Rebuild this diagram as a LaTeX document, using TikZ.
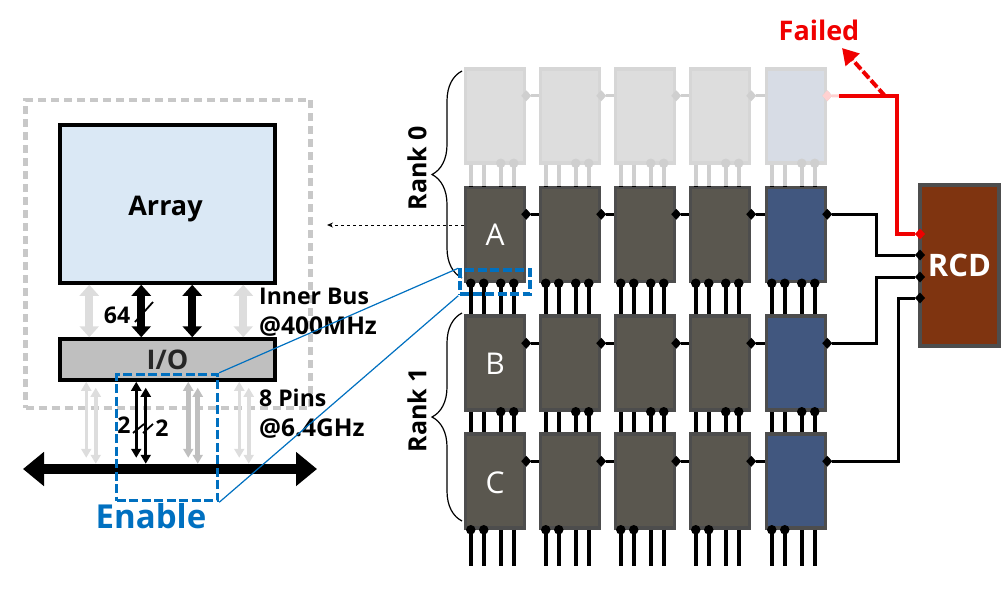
\documentclass[tikz,border=0pt]{standalone}
\usepackage{fontspec}
\setmainfont{Open Sans}
\usetikzlibrary{arrows.meta}
\usetikzlibrary{decorations.pathreplacing}
\usetikzlibrary{positioning}
\usetikzlibrary{shapes.geometric}

\definecolor{arrayblue}{HTML}{DAE8F5}
\definecolor{iogray}{HTML}{BFBFBF}
\definecolor{dashgray}{HTML}{C8C8C8}
\definecolor{faintgray}{HTML}{DDDDDD}
\definecolor{faintedge}{HTML}{D6D6D6}
\definecolor{faintpin}{HTML}{CFCFCF}
\definecolor{chipgray}{HTML}{5A574F}
\definecolor{chipedge}{HTML}{4D4D4D}
\definecolor{chipblue}{HTML}{41577F}
\definecolor{faintblue}{HTML}{D7DCE5}
\definecolor{rcdbrown}{HTML}{7F3410}
\definecolor{enableblue}{HTML}{0070C0}
\definecolor{failred}{HTML}{F00000}

\tikzset{
    labeltext/.style={font=\fontsize{23}{25}\selectfont\bfseries, inner sep=0pt, text=black},
    chip/.style={
        rectangle, minimum width=59pt, minimum height=94pt,
        inner sep=0pt,
        draw=chipedge, line width=3.5pt,
        text=white, font=\fontsize{30}{32}\selectfont,
    },
    chipdim/.style={chip, draw=faintedge},
    port/.style={
        diamond, draw=none, fill=black,
        minimum width=10pt, minimum height=11pt,
        inner sep=0pt, outer sep=0pt,
    },
    ball/.style={circle, fill=black, minimum size=9.5pt, inner sep=0pt},
    pinline/.style={draw=black, line width=4.5pt},
    pindim/.style={draw=faintpin, line width=4.5pt},
    wire/.style={draw=black, line width=3pt},
    busbig/.style={
        line width=8pt,
        {Triangle[width=19pt,length=11pt]}-{Triangle[width=19pt,length=11pt]},
    },
    bussmall/.style={
        {Triangle[width=10pt,length=9pt]}-{Triangle[width=10pt,length=9pt]},
    },
    enablebox/.style={
        rectangle, draw=enableblue, line width=3.5pt,
        dash pattern=on 9pt off 3.5pt,
        inner sep=0pt,
    },
    widthtick/.style={draw=black, line width=1.8pt},
}

\begin{document}
\begin{tikzpicture}[x=1pt, y=-1pt]
        \useasboundingbox (0,0) rectangle (1007,590);

        % left: one device
        \node (outline) at(168,254) [
            rectangle, minimum width=285pt, minimum height=308pt,
            draw=dashgray, line width=4.5pt, dash pattern=on 8pt off 5pt,
            inner sep=0pt,
        ] {};
        \node (array) at(167.5,204) [
            rectangle, minimum width=215pt, minimum height=158pt,
            draw=black, line width=3.5pt, fill=arrayblue,
            inner sep=0pt, outer sep=1.75pt,
        ] {};
        \node (arraytext) at([xshift=-2,yshift=-5]array.center) [
            font=\fontsize{27}{29}\selectfont\bfseries, text=black, inner sep=0pt,
        ] {Array};
        \node (io) at(167.5,359.5) [
            rectangle, minimum width=215pt, minimum height=41pt,
            draw=black, line width=3.5pt, fill=iogray,
            inner sep=0pt, outer sep=1.75pt,
            font=\fontsize{27}{29}\selectfont\bfseries, text=black!85,
        ] {I/O};

        \coordinate (busleft) at(23,469);
        \coordinate (busright) at(317,469);
        \draw [line width=10pt, {Triangle[width=33pt,length=21pt]}-{Triangle[width=33pt,length=21pt]}]
            (busleft) -- (busright);

        % inner bus
        \foreach \dx/\col in {31/faintgray, 83/black, 134/black, 185/faintgray}
            \draw [busbig, color=\col]
                ([xshift=\dx]array.south west) -- ([xshift=\dx]io.north west);

        % pins
        \foreach \dx/\col/\w in {28/faintgray/3.5, 78/black/3, 130/iogray/5, 181/faintgray/3.5} {
            \draw [bussmall, color=\col, line width=\w pt] ([xshift=\dx]io.south west) -- ++(0,76);
            \draw [bussmall, color=\col, line width=\w pt] ([xshift=\dx+9.5,yshift=-6]io.south west) -- ++(0,76);
        }

        \draw [widthtick] (135,322) -- (153,302);
        \draw [widthtick] (133,433) -- (144,424);
        \draw [widthtick] (143,433) -- (153,424);

        \node (wide) at(117,315) [labeltext] {64};
        \node (pinsa) at(124,425) [labeltext] {2};
        \node (pinsb) at(162,428) [labeltext] {2};
        \node (innerbus) at(259,296) [labeltext, anchor=west] {Inner Bus};
        \node (innerrate) at(259,327) [labeltext, anchor=west, font=\fontsize{24.5}{26}\selectfont\bfseries] {@400MHz};
        \node (eightpins) at(259,398) [labeltext, anchor=west] {8 Pins};
        \node (pinrate) at(259,429) [labeltext, anchor=west, font=\fontsize{24.5}{26}\selectfont\bfseries] {@6.4GHz};

        % right: chips
        \foreach \c/\x/\main/\faint in {1/495/chipgray/faintgray, 2/570/chipgray/faintgray,
            3/645/chipgray/faintgray, 4/720/chipgray/faintgray, 5/796/chipblue/faintblue} {
            \node (c-0-\c) at(\x,116) [chipdim, fill=\faint] {};
            \node (c-1-\c) at(\x,234.5) [chip, fill=\main] {};
            \node (c-2-\c) at(\x,363) [chip, fill=\main] {};
            \node (c-3-\c) at(\x,481) [chip, fill=\main] {};

            % data pins between the chips
            \foreach \dx in {7,20,37,50} {
                \draw [pindim] ([xshift=\dx]c-0-\c.south west) -- ([xshift=\dx]c-1-\c.north west);
                \draw [draw=black, line width=4pt] ([xshift=\dx]c-1-\c.north west) -- ++(0,1.5);
                \draw [pinline] ([xshift=\dx]c-1-\c.south west) -- ([xshift=\dx]c-2-\c.north west);
                \draw [pinline] ([xshift=\dx]c-2-\c.south west) -- ([xshift=\dx]c-3-\c.north west);
                \draw [pinline] ([xshift=\dx]c-3-\c.south west) -- ++(0,36);
                \node (b-1-\c-\dx) at([xshift=\dx]c-1-\c.south west) [ball] {};
            }
            \foreach \dx in {37,50} {
                \node (g-\c-\dx) at([xshift=\dx,yshift=1.5]c-0-\c.south west) [ball, fill=faintpin] {};
                \node (b-2-\c-\dx) at([xshift=\dx]c-2-\c.south west) [ball] {};
            }
            \foreach \dx in {7,20}
                \node (b-3-\c-\dx) at([xshift=\dx]c-3-\c.south west) [ball] {};

            % command ports
            \node (p-0-\c) at([yshift=-28.5]c-0-\c.north east) [port, fill=faintpin] {};
            \node (p-1-\c) at([yshift=-28.5]c-1-\c.north east) [port] {};
            \node (p-2-\c) at([yshift=-29]c-2-\c.north east) [port] {};
            \node (p-3-\c) at([yshift=-29]c-3-\c.north east) [port] {};
        }
        \foreach \c/\n in {1/2, 2/3, 3/4, 4/5} {
            \draw [wire, draw=faintpin] (p-0-\c) -- (p-0-\c -| c-0-\n.west);
            \draw [wire] (p-1-\c) -- (p-1-\c -| c-1-\n.west);
            \draw [wire] (p-2-\c) -- (p-2-\c -| c-2-\n.west);
            \draw [wire] (p-3-\c) -- (p-3-\c -| c-3-\n.west);
        }

        \node (lblA) at(c-1-1) [text=white, font=\fontsize{30}{32}\selectfont] {A};
        \node (lblB) at([yshift=-1]c-2-1) [text=white, font=\fontsize{30}{32}\selectfont] {B};
        \node (lblC) at([yshift=-2]c-3-1) [text=white, font=\fontsize{30}{32}\selectfont] {C};

        % rcd
        \node (rcd) at(959.5,265.5) [
            rectangle, minimum width=79pt, minimum height=161pt,
            draw=chipedge, line width=3.5pt, fill=rcdbrown,
            inner sep=0pt,
            text=white, font=\fontsize{31}{33}\selectfont\bfseries,
        ] {RCD};
        \node (rp-a) at(920,234) [port, fill=failred] {};
        \node (rp-b) at(920,255) [port] {};
        \node (rp-c) at(920,277) [port] {};
        \node (rp-d) at(920,298) [port] {};

        \draw [wire] (p-1-5) -- ++(49,0) |- (rp-b);
        \draw [wire] (p-2-5) -- ++(49,0) |- (rp-c);
        \draw [wire] (p-3-5) -- ++(71,0) |- (rp-d);

        % failed channel
        \node (p-0-5b) at(p-0-5) [port, fill=red!18] {};
        \coordinate (failstart) at(839,96);
        \coordinate (failcorner) at(897,96);
        \coordinate (failtap) at(885,96);
        \coordinate (failtip) at(842,48);
        \draw [line width=3pt, draw=red!18] (p-0-5b) -- (failstart);
        \draw [line width=1.5pt, draw=black] ([yshift=-1]failstart) -- ([yshift=-1]failcorner);
        \draw [line width=3.5pt, draw=failred] (failstart) -- (failcorner) |- (rp-a);
        \node (failed) at(819,30) [
            text=failred, inner sep=0pt,
            font=\fontsize{27}{29}\selectfont\bfseries,
        ] {Failed};
        \draw [
            line width=4pt, draw=failred, fill=failred, dash pattern=on 9pt off 3pt,
            -{Triangle[width=18pt,length=16pt]},
        ] (failtap) -- (failtip);

        % ranks
        \coordinate (r0top) at(462,71);
        \coordinate (r0bot) at(462,278);
        \coordinate (r1top) at(462,313);
        \coordinate (r1bot) at(462,521);
        \draw [line width=1.2pt, decorate, decoration={brace, amplitude=30pt}]
            (r0bot) -- (r0top);
        \draw [line width=1.2pt, decorate, decoration={brace, amplitude=30pt}]
            (r1bot) -- (r1top);
        \node (rank0) at(417,168) [labeltext, rotate=90, font=\fontsize{25}{27}\selectfont\bfseries] {Rank 0};
        \node (rank1) at(417,410) [labeltext, rotate=90, font=\fontsize{25}{27}\selectfont\bfseries] {Rank 1};

        % enable
        \node (enable) at(167,437.5) [enablebox, minimum width=101pt, minimum height=126pt] {};
        \node (zoomed) at(495,282) [enablebox, minimum width=70pt, minimum height=24pt] {};
        \draw [line width=1.2pt, draw=enableblue] (enable.north east) -- (zoomed.north west);
        \draw [line width=1.2pt, draw=enableblue] (enable.south east) -- (zoomed.south west);
        \node (enabletext) at(151,516) [
            text=enableblue, inner sep=0pt,
            font=\fontsize{33}{35}\selectfont\bfseries,
        ] {Enable};

        % link between the two sides
        \coordinate (linkend) at(327,225);
        \draw [line width=1pt, dashed, -{Stealth[length=6pt,width=5pt]}]
            (c-1-1.west |- linkend) -- (linkend);
    \end{tikzpicture}
\end{document}
